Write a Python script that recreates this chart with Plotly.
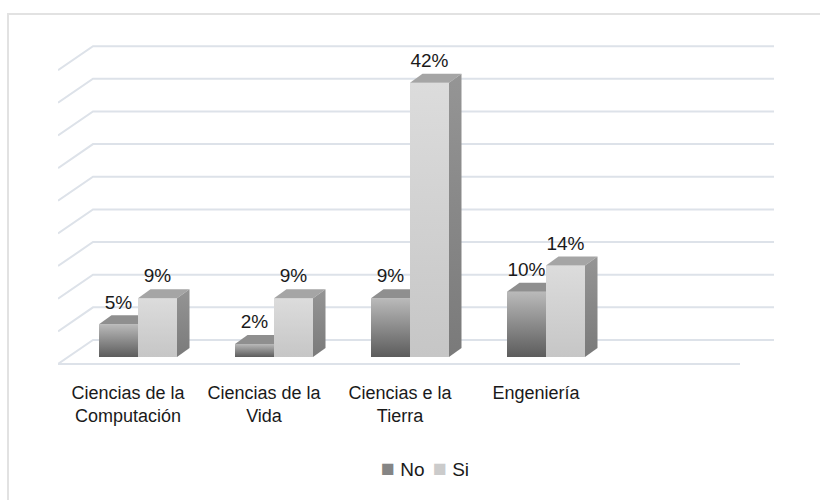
import plotly.graph_objects as go

# ---- data -------------------------------------------------------------
categories = ["Ciencias de la<br>Computación", "Ciencias de la<br>Vida",
              "Ciencias e la<br>Tierra", "Engeniería"]
series_names = ["No", "Si"]
no_values = [5, 2, 9, 10]
si_values = [9, 9, 42, 14]
grid_values = [0, 5, 10, 15, 20, 25, 30, 35, 40, 45]

# ---- canvas / scale --------------------------------------------------
W, H = 820, 500
PX_X = 136.0          # pixels per category step
PX_Y = 6.53           # pixels per percentage point
LEFT_PX, RIGHT_PX = 58, 774
TOP_PX, BOTTOM_PX = 40, 372
BASE_PX = 357         # pixel row of the 0% bar base
ZERO_X_PX = 128       # pixel column of the first category label

x_range = [(LEFT_PX - ZERO_X_PX) / PX_X, (RIGHT_PX - ZERO_X_PX) / PX_X]
y_range = [(BASE_PX - BOTTOM_PX) / PX_Y, (BASE_PX - TOP_PX) / PX_Y]

# oblique 3-D look, in axis units
PAIR_SHIFT = 10 / PX_X      # bar pair sits a little right of its label
BAR_W = 39 / PX_X
DEPTH_X = 12.5 / PX_X
DEPTH_Y = 9 / PX_Y
WALL_DX = 35 / PX_X
WALL_DY = 24 / PX_Y
FLOOR_FRONT = -7 / PX_Y
FLOOR_END = (740 - ZERO_X_PX) / PX_X
LABEL_PAD = 2 / PX_Y


def px_to_paper_x(px):
    return (px - LEFT_PX) / (RIGHT_PX - LEFT_PX)


def px_to_paper_y(py):
    return (BOTTOM_PX - py) / (BOTTOM_PX - TOP_PX)


FONT = "Liberation Sans, Arial, sans-serif"

styles = {
    "No": dict(front=["#5c5c5c", "#bababa"], top="#8f8f8f", side=["#6e6e6e", "#8a8a8a"],
               legend="#858585"),
    "Si": dict(front=["#c6c6c6", "#dcdcdc"], top="#a5a5a5", side=["#7a7a7a", "#959595"],
               legend="#cbcbcb"),
}

fig = go.Figure()

# ---- walls: left-side diagonals, back-wall gridlines, floor edge ------
gx, gy = [], []
for g in grid_values:
    gx += [x_range[0], x_range[0] + WALL_DX, x_range[1], None]
    gy += [FLOOR_FRONT + g, FLOOR_FRONT + WALL_DY + g, FLOOR_FRONT + WALL_DY + g, None]
gx += [x_range[0], FLOOR_END, None]
gy += [FLOOR_FRONT, FLOOR_FRONT, None]
fig.add_trace(go.Scatter(x=gx, y=gy, mode="lines", line=dict(color="#dde2e9", width=2),
                         hoverinfo="skip", showlegend=False, cliponaxis=False))


def face(xs, ys, color):
    kw = dict(x=xs + [xs[0]], y=ys + [ys[0]], mode="lines", fill="toself",
              line=dict(width=0), hoverinfo="skip", showlegend=False)
    if isinstance(color, list):
        kw["fillgradient"] = dict(type="vertical",
                                  colorscale=[[0, color[0]], [1, color[1]]])
        kw["fillcolor"] = color[1]
    else:
        kw["fillcolor"] = color
    fig.add_trace(go.Scatter(**kw))


# ---- bars --------------------------------------------------------------
label_x, label_y, label_t = [], [], []
for i in range(len(categories)):
    c = i + PAIR_SHIFT
    for name, vals, x0 in (("No", no_values, c - BAR_W), ("Si", si_values, c)):
        v = vals[i]
        st = styles[name]
        x1 = x0 + BAR_W
        face([x0, x1, x1, x0], [0, 0, v, v], st["front"])
        face([x0, x1, x1 + DEPTH_X, x0 + DEPTH_X], [v, v, v + DEPTH_Y, v + DEPTH_Y], st["top"])
        face([x1, x1 + DEPTH_X, x1 + DEPTH_X, x1], [0, DEPTH_Y, v + DEPTH_Y, v], st["side"])
        label_x.append((x0 + x1) / 2)
        label_y.append(v + DEPTH_Y + LABEL_PAD)
        label_t.append(f"{v}%")

fig.add_trace(go.Scatter(x=label_x, y=label_y, text=label_t, mode="text",
                         textposition="top center",
                         textfont=dict(family=FONT, size=19, color="#1a1a1a"),
                         hoverinfo="skip", showlegend=False))

# ---- legend (square swatch + series name) ------------------------------
legend_left_px = {"No": 379, "Si": 431}
annotations = []
for name in series_names:
    annotations.append(dict(
        xref="paper", yref="paper",
        x=px_to_paper_x(legend_left_px[name]), y=px_to_paper_y(468),
        xanchor="left", yanchor="middle", showarrow=False,
        text=(f'<span style="color:{styles[name]["legend"]};font-size:23px">■</span>'
              f' {name}'),
        font=dict(family=FONT, size=19, color="#1a1a1a")))

fig.update_layout(
    width=W, height=H, autosize=False,
    margin=dict(l=LEFT_PX, r=W - RIGHT_PX, t=TOP_PX, b=H - BOTTOM_PX, autoexpand=False),
    paper_bgcolor="white", plot_bgcolor="white",
    xaxis=dict(range=x_range, tickvals=list(range(len(categories))), ticktext=categories,
               showgrid=False, zeroline=False, showline=False, automargin=False,
               tickangle=0, ticks="outside", ticklen=4, tickcolor="rgba(0,0,0,0)",
               tickfont=dict(family=FONT, size=18, color="#1a1a1a")),
    yaxis=dict(range=y_range, showgrid=False, zeroline=False, showline=False,
               showticklabels=False, automargin=False),
    annotations=annotations,
    shapes=[dict(type="rect", xref="paper", yref="paper",
                 x0=px_to_paper_x(8), x1=px_to_paper_x(900),
                 y0=px_to_paper_y(560), y1=px_to_paper_y(14),
                 line=dict(color="#e2e2e2", width=2))],
    showlegend=False,
)

fig.write_html("out.html")
